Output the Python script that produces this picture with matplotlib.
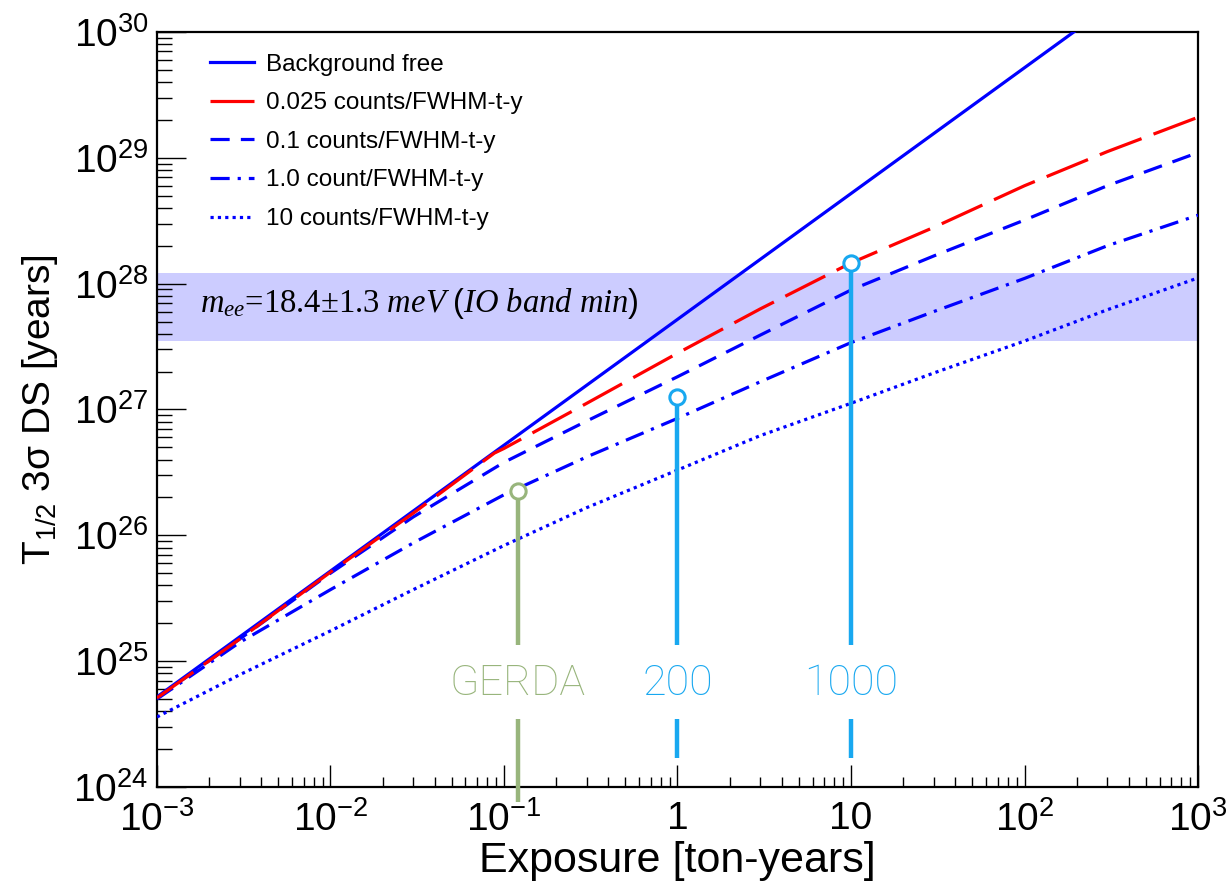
import numpy as np
import matplotlib
matplotlib.use("Agg")
import matplotlib.pyplot as plt

exposure = [1e-3, 3e-3, 1e-2, 3e-2, 0.1, 0.3, 1, 3, 10, 30, 100, 300, 1000]

# background free: straight line
bf_x = [1e-3, 1e3]
bf_y = [5.2e24, 5.2e30]

# 0.025 counts/FWHM-t-y (has an extra point where it leaves the bkg-free line)
red_x = [1e-3, 3e-3, 1e-2, 3e-2, 0.088, 0.1, 0.3, 1, 3, 10, 30, 100, 300, 1000]
red_y = [5.1e24, 1.5e25, 5.1e25, 1.5e26, 4.5e26, 4.9e26, 1.12e27, 2.8e27,
         6.3e27, 1.46e28, 2.8e28, 6.0e28, 1.12e29, 2.1e29]
# 0.1 counts/FWHM-t-y
b01_y = [5.1e24, 1.5e25, 5.0e25, 1.4e26, 3.8e26, 8.1e26, 1.82e27, 3.9e27,
         8.9e27, 1.66e28, 3.2e28, 6.0e28, 1.1e29]
# 1.0 count/FWHM-t-y
b1_y = [5.0e24, 1.41e25, 3.7e25, 8.7e25, 2.1e26, 4.2e26, 8.5e26, 1.66e27,
        3.4e27, 6.0e27, 1.1e28, 2.0e28, 3.5e28]
# 10 counts/FWHM-t-y
b10_y = [3.6e24, 7.8e24, 1.74e25, 3.7e25, 8.3e25, 1.66e26, 3.3e26, 6.2e26,
         1.12e27, 1.95e27, 3.5e27, 6.2e27, 1.11e28]

# IO band minimum
band_lo, band_hi = 3.5e27, 1.22e28

# experiments marked with pins
pin_names = ["GERDA", "200", "1000"]
pin_x = [0.12, 1.0, 10.0]
pin_y = [2.25e26, 1.26e27, 1.46e28]
pin_colors = ["#98b57c", "#18a8f0", "#18a8f0"]

plt.rcParams['font.family'] = ['Liberation Sans', 'DejaVu Sans']
plt.rcParams['mathtext.fontset'] = 'custom'
plt.rcParams['mathtext.rm'] = 'Liberation Sans'
plt.rcParams['mathtext.it'] = 'Liberation Serif:italic'
plt.rcParams['mathtext.default'] = 'regular'

fig = plt.figure(figsize=(12.29, 8.93), dpi=100)
ax = fig.add_axes([0.1277, 0.1187, 0.8471, 0.8455])
ax.set_xscale('log')
ax.set_yscale('log')
ax.set_xlim(1e-3, 1e3)
ax.set_ylim(1e24, 1e30)

ax.axhspan(band_lo, band_hi, color='#ccccff', lw=0, zorder=1)
ax.text(1.77e-3, 7.0e27, r"$\mathit{m_{ee}}$=18.4$\pm$1.3 $\mathit{meV\ (IO\ band\ min)}$",
        fontsize=23.5, family='Liberation Serif', va='center', ha='left', zorder=2)

lw = 2.3
ax.plot(bf_x, bf_y, color='#0000ff', lw=lw, label='Background free', zorder=4)
ax.plot(red_x, red_y, color='#ff0000', lw=lw, dashes=(14, 4),
        label='0.025 counts/FWHM-t-y', zorder=5)
ax.plot(exposure, b01_y, color='#0000ff', lw=lw, dashes=(6, 3.5),
        label='0.1 counts/FWHM-t-y', zorder=4)
ax.plot(exposure, b1_y, color='#0000ff', lw=lw, dashes=(6, 2.5, 1, 2.5),
        label='1.0 count/FWHM-t-y', zorder=4)
ax.plot(exposure, b10_y, color='#0000ff', lw=lw, dashes=(1, 1.3),
        label='10 counts/FWHM-t-y', zorder=4)

# pins with labels
gap_top, gap_bot = 1.35e25, 3.5e24
for name, px, py, c in zip(pin_names, pin_x, pin_y, pin_colors):
    low_end = 7.6e23 if name == "GERDA" else 1.7e24
    ax.plot([px, px], [py, gap_top], color=c, lw=3.2, zorder=6, solid_capstyle='butt')
    ax.plot([px, px], [gap_bot, low_end], color=c, lw=3.2, zorder=6,
            solid_capstyle='butt', clip_on=False)
    ax.plot([px], [py], marker='o', ms=11, mfc='white', mec=c, mew=2.2, zorder=7)
    ax.text(px, 6.7e24, name, color=c, fontsize=31, family=['Roboto', 'DejaVu Sans'],
            fontweight='light', ha='center', va='center', zorder=7)

# axes styling (ROOT-like)
for s in ax.spines.values():
    s.set_linewidth(1.6)
ax.tick_params(axis='both', which='both', direction='in', top=False, right=False,
               width=1.0, labelsize=28)
ax.tick_params(axis='y', which='major', length=21, pad=6)
ax.tick_params(axis='y', which='minor', length=11)
ax.tick_params(axis='x', which='major', length=16, pad=10)
ax.tick_params(axis='x', which='minor', length=7.5)
ax.yaxis.set_major_locator(matplotlib.ticker.LogLocator(base=10, numticks=20))
ax.yaxis.set_minor_locator(matplotlib.ticker.LogLocator(base=10, subs=np.arange(2, 10), numticks=20))
ax.xaxis.set_minor_locator(matplotlib.ticker.LogLocator(base=10, subs=np.arange(2, 10), numticks=20))
ax.xaxis.set_minor_formatter(matplotlib.ticker.NullFormatter())
ax.yaxis.set_minor_formatter(matplotlib.ticker.NullFormatter())
ax.set_xticks([1e-3, 1e-2, 1e-1, 1, 10, 1e2, 1e3])
ax.set_xticklabels([r"$10^{-3}$", r"$10^{-2}$", r"$10^{-1}$", "1", "10", r"$10^{2}$", r"$10^{3}$"])

ax.set_xlabel("Exposure [ton-years]", fontsize=31, labelpad=2)
ax.set_ylabel(r"T$_{1/2}$ 3σ DS [years]", fontsize=28, labelpad=10)

leg = ax.legend(loc='upper left', bbox_to_anchor=(0.03, 1.0), frameon=False,
                fontsize=17.5, handlelength=1.8, handletextpad=0.5, labelspacing=0.68)

fig.savefig("out.png", dpi=100)
